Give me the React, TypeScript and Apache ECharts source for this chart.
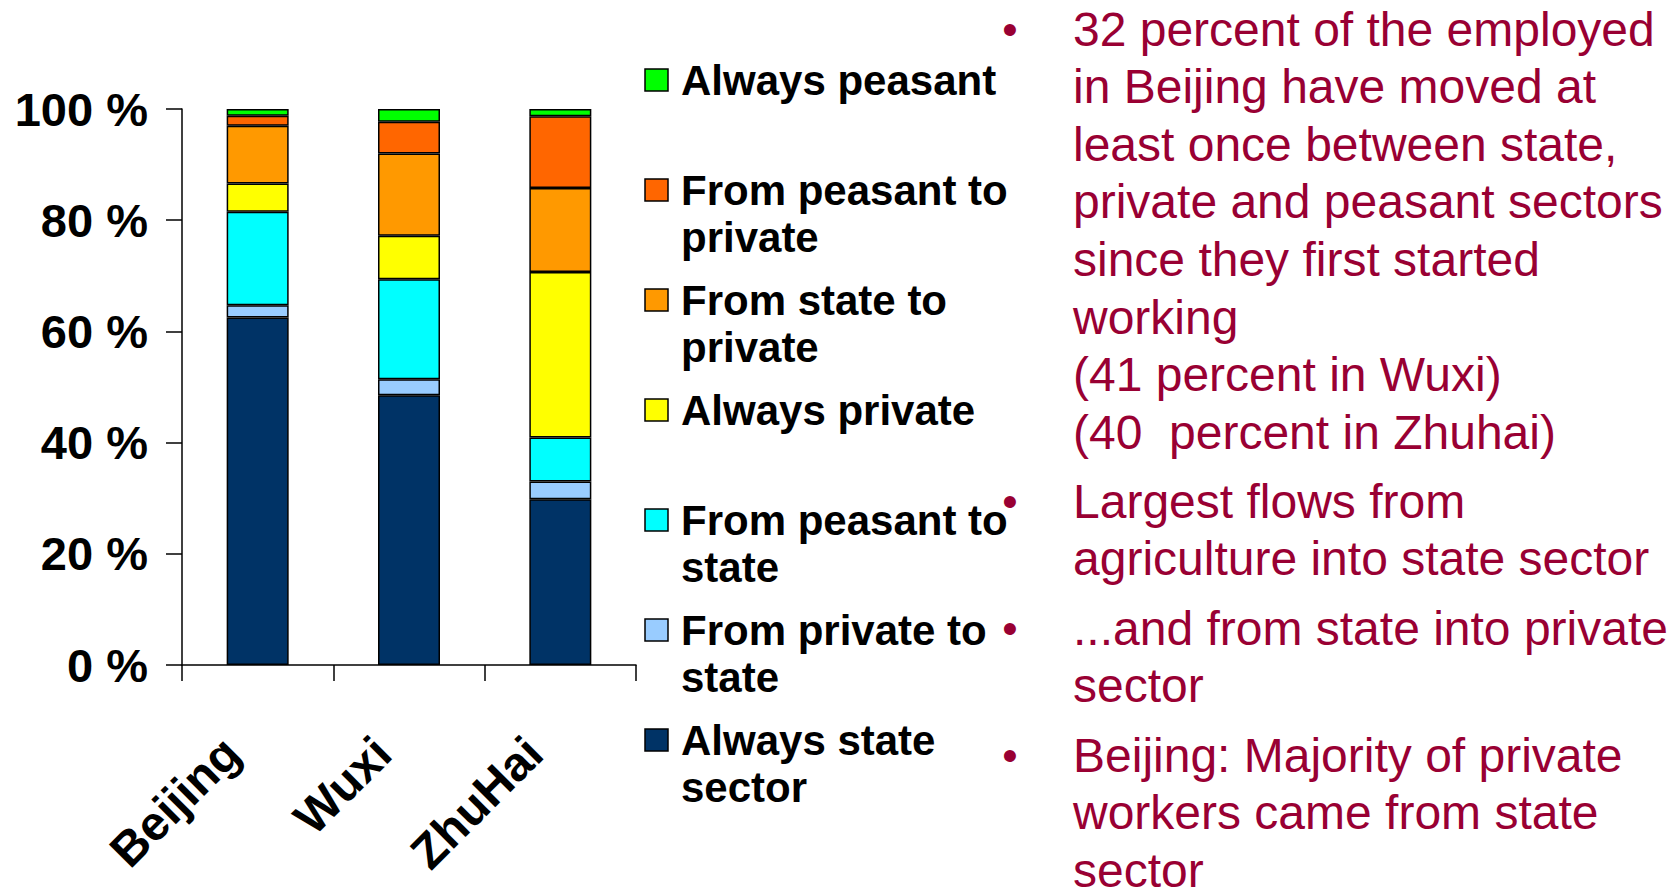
import React, { useEffect, useRef } from "react";
import * as echarts from "echarts";

const categories = ["Beijing", "Wuxi", "ZhuHai"];
const seriesNames = [
  "Always state sector",
  "From private to state",
  "From peasant to state",
  "Always private",
  "From state to private",
  "From peasant to private",
  "Always peasant",
];
const alwaysState = [62.5, 48.5, 29.8];
const privateToState = [2.2, 2.9, 3.2];
const peasantToState = [16.8, 18.0, 7.9];
const alwaysPrivate = [5.1, 7.8, 29.8];
const stateToPrivate = [10.4, 14.8, 15.1];
const peasantToPrivate = [1.8, 5.7, 12.9];
const alwaysPeasant = [1.2, 2.3, 1.3];
const seriesValues = [
  alwaysState,
  privateToState,
  peasantToState,
  alwaysPrivate,
  stateToPrivate,
  peasantToPrivate,
  alwaysPeasant,
];
const seriesColors = ["#003366", "#99CCFF", "#00FFFF", "#FFFF00", "#FF9900", "#FF6600", "#00FF00"];

// legend lines (top to bottom), as wrapped in the reference
const legendLines = [
  ["Always peasant"],
  ["From peasant to", "private"],
  ["From state to", "private"],
  ["Always private"],
  ["From peasant to", "state"],
  ["From private to", "state"],
  ["Always state", "sector"],
];

// bullet text on the right
const bullets = [
  [
    "32 percent of the employed",
    "in Beijing have moved at",
    "least once between state,",
    "private and peasant sectors",
    "since they first started",
    "working",
    "(41 percent in Wuxi)",
    "(40  percent in Zhuhai)",
  ],
  ["Largest flows from", "agriculture into state sector"],
  ["...and from state into private", "sector"],
  ["Beijing: Majority of private", "workers came from state", "sector"],
];
const bulletTops = [29, 501, 628, 755];

const FONT = '"Liberation Sans", Arial, Helvetica, sans-serif';
const TEXT_RED = "#990033";

export default function App() {
  const ref = useRef<HTMLDivElement>(null);

  useEffect(() => {
    if (!ref.current) return;
    const chart = echarts.init(ref.current, undefined, { renderer: "svg" });

    const graphic: any[] = [];
    // legend
    legendLines.forEach((lines, i) => {
      const y0 = 80 + i * 110;
      const colorIdx = seriesNames.length - 1 - i;
      graphic.push({
        type: "rect",
        shape: { x: 645, y: y0 - 11, width: 23, height: 22 },
        style: { fill: seriesColors[colorIdx], stroke: "#000", lineWidth: 1.5 },
      });
      lines.forEach((ln, j) => {
        graphic.push({
          type: "text",
          x: 681,
          y: y0 + j * 47,
          style: {
            text: ln,
            fill: "#000",
            font: `bold 42px ${FONT}`,
            textAlign: "left",
            textVerticalAlign: "middle",
          },
        });
      });
    });
    // bullets
    bullets.forEach((lines, b) => {
      const top = bulletTops[b];
      graphic.push({
        type: "text",
        x: 1010,
        y: top,
        style: {
          text: "•",
          fill: TEXT_RED,
          font: `44px ${FONT}`,
          textAlign: "center",
          textVerticalAlign: "middle",
        },
      });
      lines.forEach((ln, j) => {
        graphic.push({
          type: "text",
          x: 1073,
          y: top + j * 57.6,
          style: {
            text: ln,
            fill: TEXT_RED,
            font: `48px ${FONT}`,
            lineHeight: 34,
            textAlign: "left",
            textVerticalAlign: "middle",
          },
        });
      });
    });

    chart.setOption({
      animation: false,
      backgroundColor: "#ffffff",
      grid: { left: 182, right: 1675 - 636, top: 109, bottom: 888 - 665, containLabel: false },
      legend: { show: false, data: seriesNames },
      xAxis: {
        type: "category",
        data: categories,
        axisLine: { lineStyle: { color: "#000", width: 1.5 } },
        axisTick: { show: true, length: 16, lineStyle: { color: "#000", width: 1.5 } },
        axisLabel: {
          rotate: 45,
          margin: 54,
          padding: [0, 37, 0, 0],
          color: "#000",
          fontWeight: "bold",
          fontSize: 48,
          fontFamily: FONT,
        },
      },
      yAxis: {
        type: "value",
        min: 0,
        max: 100,
        interval: 20,
        splitLine: { show: false },
        axisLine: { show: true, lineStyle: { color: "#000", width: 1.5 } },
        axisTick: { show: true, length: 16, lineStyle: { color: "#000", width: 1.5 } },
        axisLabel: {
          formatter: "{value} %",
          margin: 34,
          color: "#000",
          fontWeight: "bold",
          fontSize: 47,
          fontFamily: FONT,
        },
      },
      series: seriesNames.map((name, i) => ({
        name,
        type: "bar",
        stack: "total",
        barWidth: 62,
        data: seriesValues[i],
        itemStyle: { color: seriesColors[i], borderColor: "#000", borderWidth: 1.5 },
      })),
      graphic,
    });

    return () => chart.dispose();
  }, []);

  return (
    <div
      ref={ref}
      style={{ position: "fixed", left: 0, top: 0, width: 1675, height: 888, background: "#fff" }}
    />
  );
}
